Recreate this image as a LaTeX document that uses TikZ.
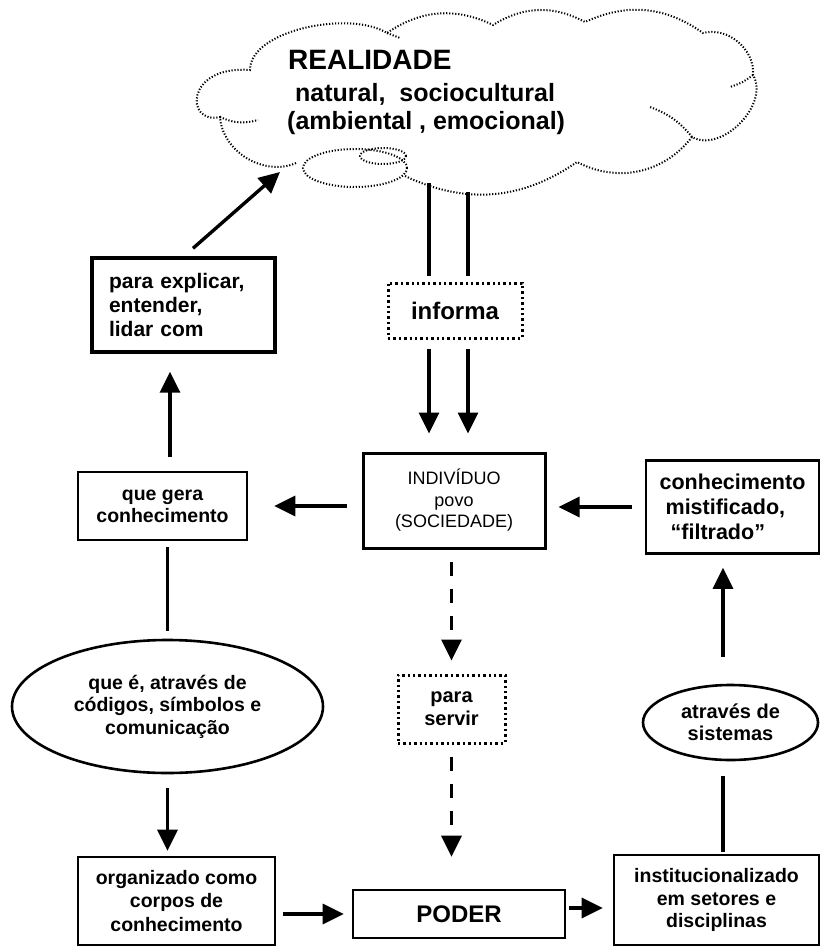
\documentclass[tikz,border=0pt]{standalone}
\usepackage{fontspec}
\setmainfont{Liberation Sans}
\usetikzlibrary{arrows.meta,shapes.geometric}
\newcommand{\myfs}[2]{\fontsize{#1}{#2}\selectfont\bfseries}
\begin{document}
\begin{tikzpicture}[x=1pt,y=-1pt,
  box/.style={draw, line width=2.6pt, inner sep=0pt, align=center},
  dotbox/.style={draw, line width=3pt, dash pattern=on 2.4pt off 3pt, inner sep=0pt, align=center},
  oval/.style={ellipse, draw, line width=2.6pt, inner sep=0pt, align=center},
  ln/.style={line width=3.4pt},
  arr/.style={line width=3.4pt, -{Triangle[length=21pt,width=20pt]}},
  darr/.style={arr, dash pattern=on 14pt off 13pt},
  cloudline/.style={line width=2pt, dash pattern=on 1.2pt off 1.8pt}
]
\useasboundingbox[fill=white] (0,0) rectangle (821,947);

% cloud
\draw[cloudline] (296,163) to[bend left=55] (220,117)
  .. controls (185,125) and (185,65) .. (250,70)
  .. controls (250,30) and (350,10) .. (387,33)
  to[bend left=30] (493,25)
  to[bend left=30] (585,22)
  to[bend left=30] (703,33)
  to[bend left=55] (753,75)
  to[bend left=75] (692,137)
  to[bend left=40] (577,162)
  to[bend left=30] (405,176);
\draw[cloudline] (220,117) to[bend right=20] (258,120);
\draw[cloudline] (753,75) to[bend left=10] (730,87);
\draw[cloudline] (692,137) to[bend right=15] (650,107);
\draw[cloudline] (387,33) -- (400,38);
\draw[cloudline] (355,168) ellipse [x radius=52pt, y radius=19pt];
\draw[cloudline] (383,156) ellipse [x radius=23pt, y radius=8pt];

\node[anchor=base west, inner sep=0pt, font=\myfs{28}{30}] (real1) at (288,70) {REALIDADE};
\node[anchor=base west, inner sep=0pt, font=\myfs{25}{28}] (real2) at (295,102) {natural,\ \ sociocultural};
\node[anchor=base west, inner sep=0pt, font=\myfs{25}{28}] (real3) at (287,130) {(ambiental , emocional)};

\coordinate (cl1) at (280,172);
\coordinate (cla) at (429,183);
\coordinate (clb) at (468,192);

% nodes
\node[box, line width=3.4pt, minimum width=183pt, minimum height=94pt, text width=149pt, align=left, font=\myfs{21}{24}] (expl) at (183.5,305) {para explicar,\\entender,\\lidar com};
\node[dotbox, minimum width=134pt, minimum height=55pt, font=\myfs{24}{28}] (info) at (455,310.5) {informa};
\node[box, minimum width=169pt, minimum height=68pt, font=\myfs{19.5}{22}] (gera) at (162.5,506) {que gera\\conhecimento};
\node[box, line width=3pt, minimum width=182pt, minimum height=95pt, font=\fontsize{18}{21.5}\selectfont] (indiv) at (454,500.5) {INDIVÍDUO\\povo\\(SOCIEDADE)};
\node[box, minimum width=173pt, minimum height=93pt, align=left, font=\myfs{21.5}{25}] (mist) at (732.5,507) {conhecimento\\\hspace*{6pt}mistificado,\\\hspace*{11pt}“filtrado”};
\node[oval, minimum width=311pt, minimum height=133pt, font=\myfs{19.5}{22.5}] (ell1) at (167.5,706.5) {que é, através de\\códigos, símbolos e\\comunicação};
\node[dotbox, minimum width=107pt, minimum height=68pt, font=\myfs{20}{23}] (servir) at (451.5,709) {para\\servir};
\node[oval, minimum width=175pt, minimum height=75pt, font=\myfs{20}{22}] (ell2) at (730.5,722.5) {através de\\sistemas};
\node[box, minimum width=197pt, minimum height=88pt, font=\myfs{19.5}{23.5}] (org) at (176.5,901) {organizado como\\corpos de\\conhecimento};
\node[box, minimum width=212pt, minimum height=48pt, font=\myfs{24}{28}] (poder) at (459,914) {PODER};
\node[box, minimum width=205pt, minimum height=90pt, font=\myfs{19.5}{22.5}] (inst) at (716.5,900) {institucionalizado\\em setores e\\disciplinas};

% connectors
\draw[arr] ([xshift=9.5pt,yshift=8pt]expl.north) -- (cl1);
\draw[ln, shorten >=6pt] (cla) -- (cla |- info.north);
\draw[ln, shorten >=6pt] (clb) -- (clb |- info.north);
\draw[arr, shorten <=9pt, shorten >=18pt] (cla |- info.south) -- (cla |- indiv.north);
\draw[arr, shorten <=9pt, shorten >=18pt] (clb |- info.south) -- (clb |- indiv.north);
\draw[arr, shorten <=15pt, shorten >=26pt] (indiv.west |- gera.east) -- (gera.east);
\draw[arr, shorten <=13pt, shorten >=12pt] (mist.west) -- (mist.west -| indiv.east);
\coordinate (g1) at ([xshift=7.5pt]gera.north);
\draw[arr, shorten <=14pt, shorten >=18pt] (g1) -- (g1 |- expl.south);
\draw[ln, shorten <=6pt, shorten >=8pt] (ell1.north |- gera.south) -- (ell1.north);
\draw[arr, shorten <=14pt, shorten >=5pt] (ell1.south) -- (ell1.south |- org.north);
\draw[arr, shorten <=7pt, shorten >=8pt] (org.east |- poder.west) -- (poder.west);
\coordinate (p2) at ([yshift=6pt]poder.east);
\draw[arr, shorten <=3pt, shorten >=10pt] (p2) -- (p2 -| inst.west);
\coordinate (e2) at ([xshift=-7.5pt]ell2.south);
\draw[ln, shorten <=15pt, shorten >=2pt] (e2) -- (e2 |- inst.north);
\coordinate (e2n) at ([xshift=-7.5pt]ell2.north);
\draw[arr, shorten <=27pt, shorten >=13pt] (e2n) -- (e2n |- mist.south);
\draw[darr, shorten <=12pt, shorten >=13pt] (servir.north |- indiv.south) -- (servir.north);
\draw[darr, shorten <=12pt, shorten >=32pt] (servir.south) -- (servir.south |- poder.north);
\end{tikzpicture}
\end{document}
